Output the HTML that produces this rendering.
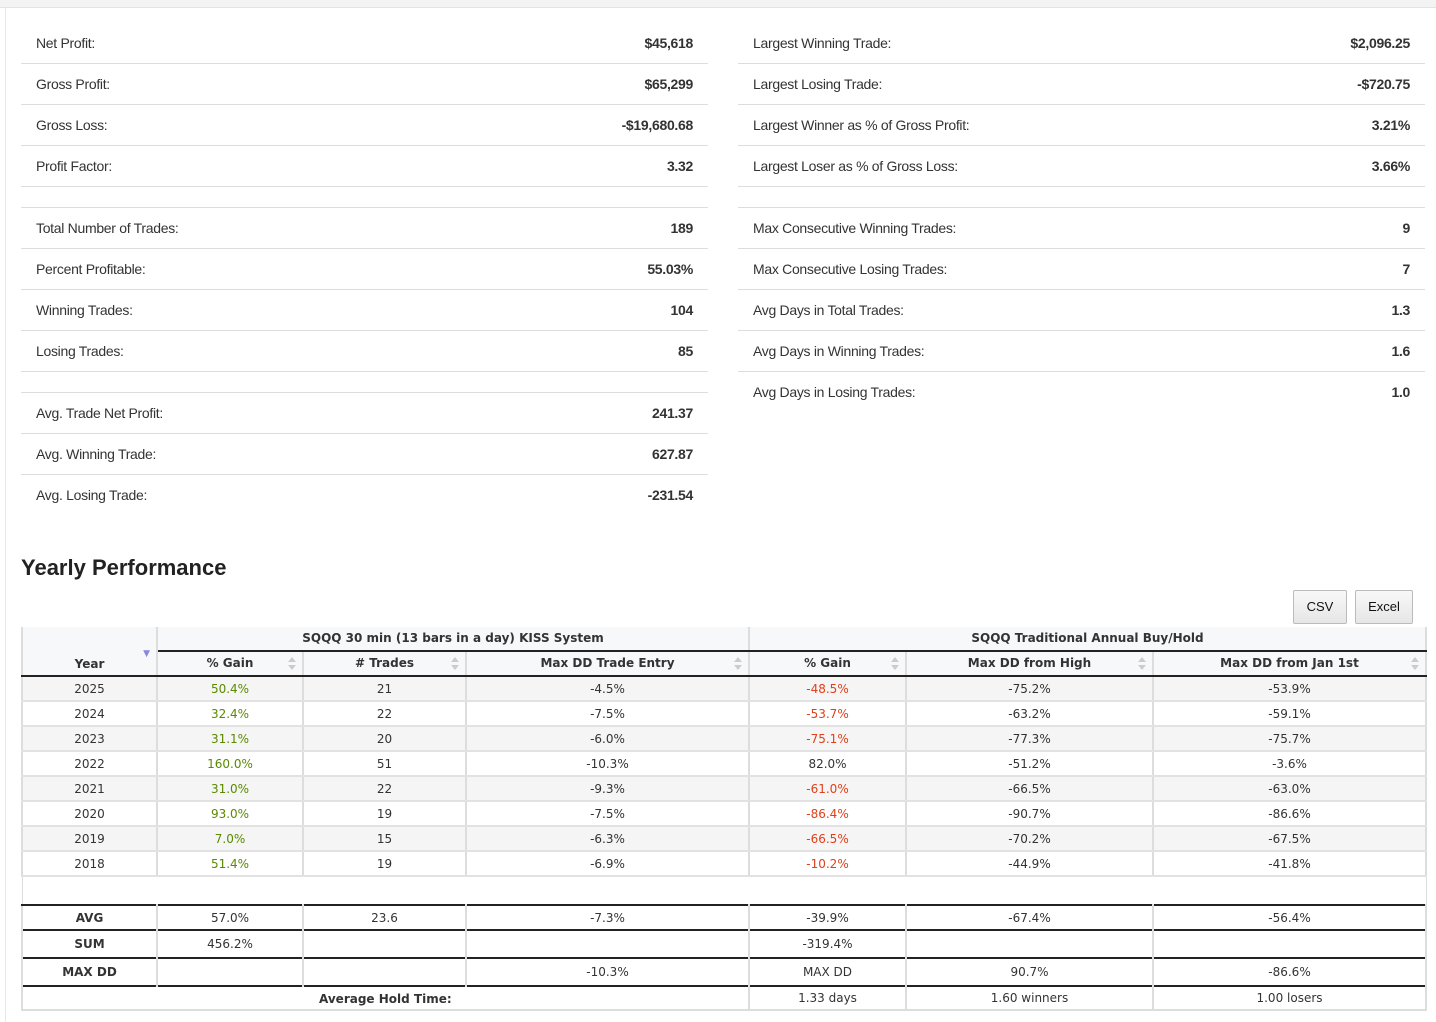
<!DOCTYPE html>
<html><head><meta charset="utf-8"><style>
body{margin:0;width:1436px;height:1022px;background:#fff;position:relative;overflow:hidden;font-family:"Liberation Sans",sans-serif;color:#333}
.top{position:absolute;left:0;top:0;width:1436px;height:7px;background:#f3f3f3;border-bottom:1px solid #e3e3e3}
.lb{position:absolute;left:5px;top:8px;width:1px;height:1014px;background:#e8e8e8}
.r{position:absolute;height:41px;font-size:14px;letter-spacing:-0.3px}
.r span{position:absolute;top:13px}
.r .k{left:15px}.r .v{right:15px;font-weight:bold;color:#333}
.ln{position:absolute;height:1px;background:#ddd}
h2{position:absolute;left:21px;top:555px;margin:0;font-size:22px;font-weight:bold;color:#222}
.btn{position:absolute;top:590px;height:32px;border:1px solid #bbb;border-radius:2px;background:linear-gradient(#f8f8f8,#e6e6e6);font-size:13px;line-height:32px;text-align:center;color:#111}
table{position:absolute;left:21px;top:627px;border-collapse:collapse;table-layout:fixed;font-family:"DejaVu Sans",sans-serif;font-size:12px;color:#333}
td{text-align:center;padding:0;border-left:2px solid #ddd;border-right:2px solid #ddd;overflow:hidden;white-space:nowrap}
tr.d td{height:23px;border-bottom:2px solid #e2e2e2}
tr.d:nth-child(odd) td{background:#f5f5f5}
.hd td{background:#f7f8fa;font-weight:bold;color:#333}
.g{color:#5a8a00}.rd{color:#e0401c}
.bt td{border-top:2px solid #222}
.b{font-weight:bold}
.ar{position:relative}
.ar:after{content:"";position:absolute;right:6px;top:5px;border:4px solid transparent;border-bottom:5px solid #ccc;border-top:none}
.ar:before{content:"";position:absolute;right:6px;top:13px;border:4px solid transparent;border-top:5px solid #ccc;border-bottom:none}
</style></head><body>
<div class="top"></div><div class="lb"></div>

<div class="r" style="left:21px;top:22px;width:687px"><span class="k">Net Profit:</span><span class="v">$45,618</span></div>
<div class="r" style="left:21px;top:63px;width:687px"><span class="k">Gross Profit:</span><span class="v">$65,299</span></div>
<div class="r" style="left:21px;top:104px;width:687px"><span class="k">Gross Loss:</span><span class="v">-$19,680.68</span></div>
<div class="r" style="left:21px;top:145px;width:687px"><span class="k">Profit Factor:</span><span class="v">3.32</span></div>
<div class="r" style="left:21px;top:207px;width:687px"><span class="k">Total Number of Trades:</span><span class="v">189</span></div>
<div class="r" style="left:21px;top:248px;width:687px"><span class="k">Percent Profitable:</span><span class="v">55.03%</span></div>
<div class="r" style="left:21px;top:289px;width:687px"><span class="k">Winning Trades:</span><span class="v">104</span></div>
<div class="r" style="left:21px;top:330px;width:687px"><span class="k">Losing Trades:</span><span class="v">85</span></div>
<div class="r" style="left:21px;top:392px;width:687px"><span class="k">Avg. Trade Net Profit:</span><span class="v">241.37</span></div>
<div class="r" style="left:21px;top:433px;width:687px"><span class="k">Avg. Winning Trade:</span><span class="v">627.87</span></div>
<div class="r" style="left:21px;top:474px;width:687px"><span class="k">Avg. Losing Trade:</span><span class="v">-231.54</span></div>

<div class="r" style="left:738px;top:22px;width:687px"><span class="k">Largest Winning Trade:</span><span class="v">$2,096.25</span></div>
<div class="r" style="left:738px;top:63px;width:687px"><span class="k">Largest Losing Trade:</span><span class="v">-$720.75</span></div>
<div class="r" style="left:738px;top:104px;width:687px"><span class="k">Largest Winner as % of Gross Profit:</span><span class="v">3.21%</span></div>
<div class="r" style="left:738px;top:145px;width:687px"><span class="k">Largest Loser as % of Gross Loss:</span><span class="v">3.66%</span></div>
<div class="r" style="left:738px;top:207px;width:687px"><span class="k">Max Consecutive Winning Trades:</span><span class="v">9</span></div>
<div class="r" style="left:738px;top:248px;width:687px"><span class="k">Max Consecutive Losing Trades:</span><span class="v">7</span></div>
<div class="r" style="left:738px;top:289px;width:687px"><span class="k">Avg Days in Total Trades:</span><span class="v">1.3</span></div>
<div class="r" style="left:738px;top:330px;width:687px"><span class="k">Avg Days in Winning Trades:</span><span class="v">1.6</span></div>
<div class="r" style="left:738px;top:371px;width:687px"><span class="k">Avg Days in Losing Trades:</span><span class="v">1.0</span></div>

<div class="ln" style="left:21px;top:63px;width:687px"></div>
<div class="ln" style="left:21px;top:104px;width:687px"></div>
<div class="ln" style="left:21px;top:145px;width:687px"></div>
<div class="ln" style="left:21px;top:186px;width:687px"></div>
<div class="ln" style="left:21px;top:207px;width:687px"></div>
<div class="ln" style="left:21px;top:248px;width:687px"></div>
<div class="ln" style="left:21px;top:289px;width:687px"></div>
<div class="ln" style="left:21px;top:330px;width:687px"></div>
<div class="ln" style="left:21px;top:371px;width:687px"></div>
<div class="ln" style="left:21px;top:392px;width:687px"></div>
<div class="ln" style="left:21px;top:433px;width:687px"></div>
<div class="ln" style="left:21px;top:474px;width:687px"></div>

<div class="ln" style="left:738px;top:63px;width:687px"></div>
<div class="ln" style="left:738px;top:104px;width:687px"></div>
<div class="ln" style="left:738px;top:145px;width:687px"></div>
<div class="ln" style="left:738px;top:186px;width:687px"></div>
<div class="ln" style="left:738px;top:207px;width:687px"></div>
<div class="ln" style="left:738px;top:248px;width:687px"></div>
<div class="ln" style="left:738px;top:289px;width:687px"></div>
<div class="ln" style="left:738px;top:330px;width:687px"></div>
<div class="ln" style="left:738px;top:371px;width:687px"></div>

<h2>Yearly Performance</h2>
<div class="btn" style="left:1293px;width:52px">CSV</div>
<div class="btn" style="left:1355px;width:56px">Excel</div>

<table>
<colgroup><col style="width:135px"><col style="width:146px"><col style="width:163px"><col style="width:283px"><col style="width:157px"><col style="width:247px"><col style="width:273px"></colgroup>
<tr class="hd"><td rowspan="2" style="height:44px;vertical-align:bottom;padding-bottom:4px;border-bottom:2px solid #222;position:relative">Year<span style="position:absolute;right:6px;top:22px;color:#8888dd;font-size:9px">▼</span></td><td colspan="3" style="height:21px;border-bottom:2px solid #222">SQQQ 30 min (13 bars in a day) KISS System</td><td colspan="3" style="border-bottom:2px solid #222">SQQQ Traditional Annual Buy/Hold</td></tr>
<tr class="hd"><td class="ar" style="height:21px;border-bottom:2px solid #222">% Gain</td><td class="ar" style="border-bottom:2px solid #222"># Trades</td><td class="ar" style="border-bottom:2px solid #222">Max DD Trade Entry</td><td class="ar" style="border-bottom:2px solid #222">% Gain</td><td class="ar" style="border-bottom:2px solid #222">Max DD from High</td><td class="ar" style="border-bottom:2px solid #222">Max DD from Jan 1st</td></tr>
<tbody>
<tr class="d"><td>2025</td><td class="g">50.4%</td><td>21</td><td>-4.5%</td><td class="rd">-48.5%</td><td>-75.2%</td><td>-53.9%</td></tr>
<tr class="d"><td>2024</td><td class="g">32.4%</td><td>22</td><td>-7.5%</td><td class="rd">-53.7%</td><td>-63.2%</td><td>-59.1%</td></tr>
<tr class="d"><td>2023</td><td class="g">31.1%</td><td>20</td><td>-6.0%</td><td class="rd">-75.1%</td><td>-77.3%</td><td>-75.7%</td></tr>
<tr class="d"><td>2022</td><td class="g">160.0%</td><td>51</td><td>-10.3%</td><td>82.0%</td><td>-51.2%</td><td>-3.6%</td></tr>
<tr class="d"><td>2021</td><td class="g">31.0%</td><td>22</td><td>-9.3%</td><td class="rd">-61.0%</td><td>-66.5%</td><td>-63.0%</td></tr>
<tr class="d"><td>2020</td><td class="g">93.0%</td><td>19</td><td>-7.5%</td><td class="rd">-86.4%</td><td>-90.7%</td><td>-86.6%</td></tr>
<tr class="d"><td>2019</td><td class="g">7.0%</td><td>15</td><td>-6.3%</td><td class="rd">-66.5%</td><td>-70.2%</td><td>-67.5%</td></tr>
<tr class="d"><td>2018</td><td class="g">51.4%</td><td>19</td><td>-6.9%</td><td class="rd">-10.2%</td><td>-44.9%</td><td>-41.8%</td></tr>
<tr class="bt"><td colspan="7" style="height:27px;border-left:1px solid #ddd;border-right:1px solid #ddd"></td></tr>
<tr class="bt"><td class="b" style="height:23px">AVG</td><td>57.0%</td><td>23.6</td><td>-7.3%</td><td>-39.9%</td><td>-67.4%</td><td>-56.4%</td></tr>
<tr class="bt"><td class="b" style="height:26px">SUM</td><td>456.2%</td><td></td><td></td><td>-319.4%</td><td></td><td></td></tr>
<tr class="bt"><td class="b" style="height:26px">MAX DD</td><td></td><td></td><td>-10.3%</td><td>MAX DD</td><td>90.7%</td><td>-86.6%</td></tr>
<tr class="bt"><td colspan="4" class="b" style="height:22px;border-bottom:2px solid #ddd"></td><td style="border-bottom:2px solid #ddd">1.33 days</td><td style="border-bottom:2px solid #ddd">1.60 winners</td><td style="border-bottom:2px solid #ddd">1.00 losers</td></tr>
</tbody>
</table>
<div style="position:absolute;left:319px;top:992px;font-family:'DejaVu Sans',sans-serif;font-size:12px;font-weight:bold;color:#333">Average Hold Time:</div>
</body></html>
